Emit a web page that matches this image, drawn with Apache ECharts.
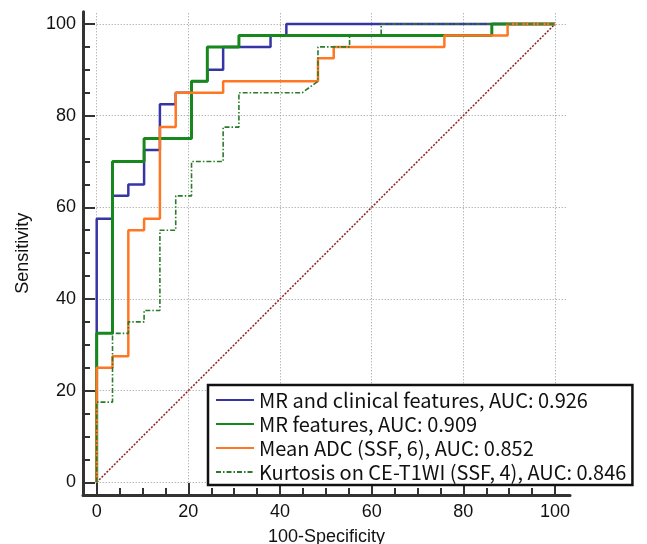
<!DOCTYPE html>
<html>
<head>
<meta charset="utf-8">
<script src="https://cdn.jsdelivr.net/npm/echarts@6/dist/echarts.min.js"></script>
<style>
  html, body { margin: 0; padding: 0; background: #fff; }
  #chart { width: 647px; height: 544px; }
</style>
</head>
<body>
<div id="chart"></div>
<script>
// axis ticks
const majorTicks = [0, 20, 40, 60, 80, 100];
const minorTicks = [5, 10, 15, 25, 30, 35, 45, 50, 55, 65, 70, 75, 85, 90, 95];
const gridEnd = 102.6;

const seriesNames = [
  'MR and clinical features, AUC: 0.926',
  'MR features, AUC: 0.909',
  'Mean ADC (SSF, 6), AUC: 0.852',
  'Kurtosis on CE-T1WI (SSF, 4), AUC: 0.846'
];

// ROC staircase vertices (100-Specificity, Sensitivity)
const clinX = [0, 0, 3.45, 3.45, 6.9, 6.9, 10.34, 10.34, 13.79, 13.79, 17.24, 17.24, 20.69, 20.69, 24.14, 24.14, 27.59, 27.59, 37.93, 37.93, 41.38, 41.38, 100];
const clinY = [0, 57.5, 57.5, 62.5, 62.5, 65, 65, 72.5, 72.5, 82.5, 82.5, 85, 85, 87.5, 87.5, 90, 90, 95, 95, 97.5, 97.5, 100, 100];

const mrX = [0, 0, 3.45, 3.45, 10.34, 10.34, 20.69, 20.69, 24.14, 24.14, 31.03, 31.03, 86.21, 86.21, 100];
const mrY = [0, 32.5, 32.5, 70, 70, 75, 75, 87.5, 87.5, 95, 95, 97.5, 97.5, 100, 100];

const adcX = [0, 0, 3.45, 3.45, 6.9, 6.9, 10.34, 10.34, 13.79, 13.79, 17.24, 17.24, 27.59, 27.59, 48.28, 48.28, 51.72, 51.72, 75.86, 75.86, 89.66, 89.66, 100];
const adcY = [0, 25, 25, 27.5, 27.5, 55, 55, 57.5, 57.5, 77.5, 77.5, 85, 85, 87.5, 87.5, 92.5, 92.5, 95, 95, 97.5, 97.5, 100, 100];

const kurtX = [0, 0, 3.45, 3.45, 6.9, 6.9, 10.34, 10.34, 13.79, 13.79, 17.24, 17.24, 20.69, 20.69, 27.59, 27.59, 31.03, 31.03, 44.83, 48.28, 48.28, 55.17, 55.17, 62.07, 62.07, 100];
const kurtY = [0, 17.5, 17.5, 32.5, 32.5, 35, 35, 37.5, 37.5, 55, 55, 62.5, 62.5, 70, 70, 77.5, 77.5, 85, 85, 87.5, 95, 95, 97.5, 97.5, 100, 100];

const diagX = [0, 100];
const diagY = [0, 100];

const zip = (xs, ys) => xs.map((x, i) => [x, ys[i]]);

// dotted grid lines, drawn from 0 out to the end of the axes
const gridLines = [];
majorTicks.forEach(v => {
  gridLines.push([{ coord: [0, v] }, { coord: [gridEnd, v] }]);
  gridLines.push([{ coord: [v, 0] }, { coord: [v, gridEnd] }]);
});

const axisColor = '#333';
const labelFont = 'Liberation Sans, Arial, sans-serif';

const chart = echarts.init(document.getElementById('chart'));

const option = {
  animation: false,
  backgroundColor: '#fff',
  grid: { left: 83, right: 77, top: 11.7, bottom: 49, outerBoundsMode: 'none', containLabel: false },
  xAxis: [
    {
      type: 'value',
      min: -2.99,
      max: 103.27,
      name: '100-Specificity',
      nameLocation: 'middle',
      nameGap: 33,
      nameTextStyle: { fontFamily: labelFont, fontSize: 18, color: '#111' },
      axisLine: { show: true, onZero: false, lineStyle: { color: axisColor, width: 3 } },
      axisTick: { show: true, inside: true, length: 12, customValues: majorTicks, lineStyle: { color: axisColor, width: 2 } },
      axisLabel: { show: true, customValues: majorTicks, margin: 8, fontFamily: labelFont, fontSize: 18, color: '#111' },
      splitLine: { show: false }
    },
    {
      type: 'value',
      position: 'bottom',
      min: -2.99,
      max: 103.27,
      axisLine: { show: false, onZero: false },
      axisTick: { show: true, inside: true, length: 7, customValues: minorTicks, lineStyle: { color: axisColor, width: 2 } },
      axisLabel: { show: false },
      splitLine: { show: false }
    }
  ],
  yAxis: [
    {
      type: 'value',
      min: -2.77,
      max: 102.68,
      name: 'Sensitivity',
      nameLocation: 'middle',
      nameGap: 51,
      nameTextStyle: { fontFamily: labelFont, fontSize: 18, color: '#111' },
      axisLine: { show: true, onZero: false, lineStyle: { color: axisColor, width: 3 } },
      axisTick: { show: true, inside: true, length: 12, customValues: majorTicks, lineStyle: { color: axisColor, width: 2 } },
      axisLabel: { show: true, customValues: majorTicks, margin: 7, fontFamily: labelFont, fontSize: 18, color: '#111' },
      splitLine: { show: false }
    },
    {
      type: 'value',
      position: 'left',
      min: -2.77,
      max: 102.68,
      axisLine: { show: false, onZero: false },
      axisTick: { show: true, inside: true, length: 7, customValues: minorTicks, lineStyle: { color: axisColor, width: 2 } },
      axisLabel: { show: false },
      splitLine: { show: false }
    }
  ],
  legend: {
    orient: 'vertical',
    left: 208,
    top: 385,
    itemWidth: 38,
    itemHeight: 2,
    itemGap: 0,
    padding: [3, 6, 1, 7],
    borderColor: '#111',
    borderWidth: 2.5,
    borderRadius: 0,
    backgroundColor: '#fff',
    itemStyle: { opacity: 0 },
    textStyle: { fontFamily: 'Noto Sans CJK KR', fontSize: 20, lineHeight: 24, color: '#111' },
    data: seriesNames
  },
  series: [
    {
      name: 'reference',
      type: 'line',
      data: zip(diagX, diagY),
      symbol: 'none',
      silent: true,
      lineStyle: { color: '#8f2020', width: 1.5, type: [2, 1.5] },
      markLine: {
        silent: true,
        z: 1,
        symbol: ['none', 'none'],
        label: { show: false },
        lineStyle: { color: '#999', width: 1, type: [1, 2] },
        emphasis: { disabled: true },
        data: gridLines
      }
    },
    {
      name: seriesNames[0],
      type: 'line',
      data: zip(clinX, clinY),
      symbol: 'none',
      lineStyle: { color: '#3535a6', width: 2.5 },
      itemStyle: { color: '#3535a6' }
    },
    {
      name: seriesNames[1],
      type: 'line',
      data: zip(mrX, mrY),
      symbol: 'none',
      lineStyle: { color: '#17891c', width: 3 },
      itemStyle: { color: '#17891c' }
    },
    {
      name: seriesNames[2],
      type: 'line',
      data: zip(adcX, adcY),
      symbol: 'none',
      lineStyle: { color: '#ff7722', width: 2.5 },
      itemStyle: { color: '#ff7722' }
    },
    {
      name: seriesNames[3],
      type: 'line',
      data: zip(kurtX, kurtY),
      symbol: 'none',
      lineStyle: { color: '#2b7a2b', width: 1.6, type: [5, 2, 1.5, 2] },
      itemStyle: { color: '#2b7a2b' }
    }
  ]
};

chart.setOption(option);
</script>
</body>
</html>
